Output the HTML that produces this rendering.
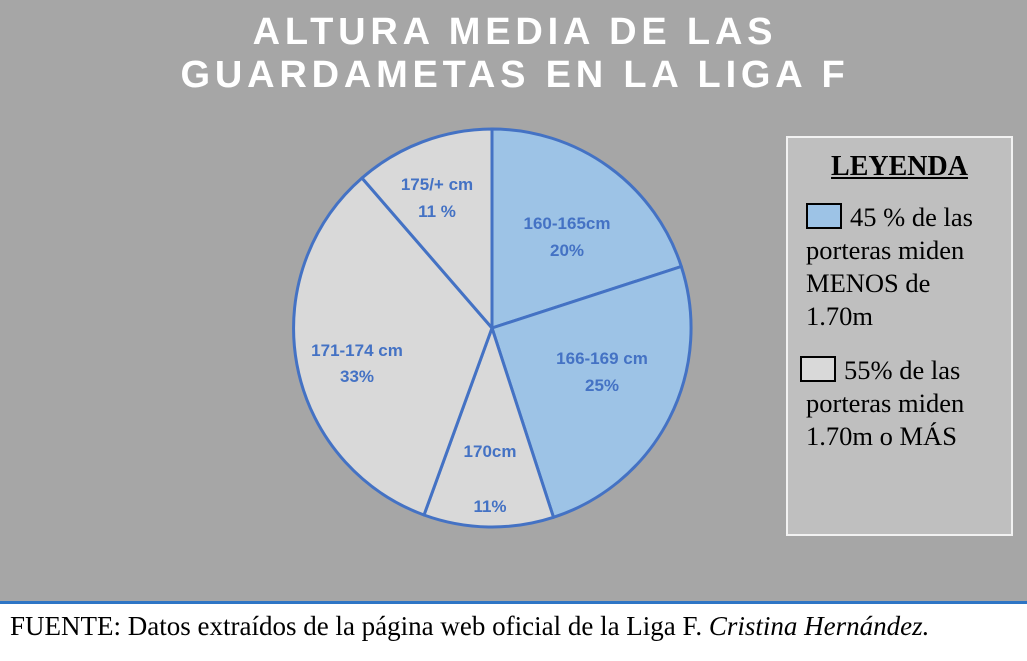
<!DOCTYPE html>
<html><head><meta charset="utf-8"><style>
body{margin:0;width:1027px;height:661px;overflow:hidden;background:#fff;position:relative;font-family:"Liberation Serif",serif}
.bg{position:absolute;left:0;top:0;width:1027px;height:601px;background:#a6a6a6;border-bottom:3px solid #2e75c5}
.t{position:absolute;left:0;width:1030px;text-align:center;color:#fff;font:bold 38px "Liberation Sans",sans-serif;letter-spacing:4.8px}
.leg{position:absolute;left:786px;top:136px;width:223px;height:396px;background:#bfbfbf;border:2px solid #f2f2f2;font-size:26.5px;line-height:33px;color:#000}
.sw{display:inline-block;width:32px;height:22px;border:2px solid #000;vertical-align:-3px;margin-right:8px}
.foot{position:absolute;left:10px;top:611px;font-size:27px;color:#000}
</style></head><body>
<div class="bg"></div>
<div class="t" style="top:11px">ALTURA MEDIA DE LAS</div>
<div class="t" style="top:54px">GUARDAMETAS EN LA LIGA F</div>
<svg width="1027" height="661" style="position:absolute;left:0;top:0">
<g stroke="#4472c4" stroke-width="3" stroke-linejoin="round">
<path d="M492,328 L492,129 A199,199 0 0 1 681.3,266.5 Z" fill="#9dc3e6"/>
<path d="M492,328 L681.3,266.5 A199,199 0 0 1 553.5,517.3 Z" fill="#9dc3e6"/>
<path d="M492,328 L553.5,517.3 A199,199 0 0 1 424,515 Z" fill="#d9d9d9"/>
<path d="M492,328 L424,515 A199,199 0 0 1 362,178 Z" fill="#d9d9d9"/>
<path d="M492,328 L362,178 A199,199 0 0 1 492,129 Z" fill="#d9d9d9"/>
</g>
<g fill="#4472c4" font-family="Liberation Sans,sans-serif" font-weight="bold" font-size="17" text-anchor="middle">
<text x="567" y="229">160-165cm</text><text x="567" y="256">20%</text>
<text x="602" y="364">166-169 cm</text><text x="602" y="391">25%</text>
<text x="490" y="457">170cm</text><text x="490" y="512">11%</text>
<text x="357" y="356">171-174 cm</text><text x="357" y="382">33%</text>
<text x="437" y="190">175/+  cm</text><text x="437" y="217">11 %</text>
</g>
</svg>
<div class="leg">
<div style="text-align:center;font-weight:bold;text-decoration:underline;font-size:28px;margin-top:12px">LEYENDA</div>
<div style="margin:18px 0 0 18px"><span class="sw" style="background:#9dc3e6"></span>45 % de las<br>porteras miden<br>MENOS de<br>1.70m</div>
<div style="margin:21px 0 0 18px;text-indent:-6px"><span class="sw" style="background:#d9d9d9"></span>55% de las<br>porteras miden<br>1.70m o MÁS</div>
</div>
<div class="foot">FUENTE: Datos extraídos de la página web oficial de la Liga F. <i>Cristina Hernández.</i></div>
</body></html>
